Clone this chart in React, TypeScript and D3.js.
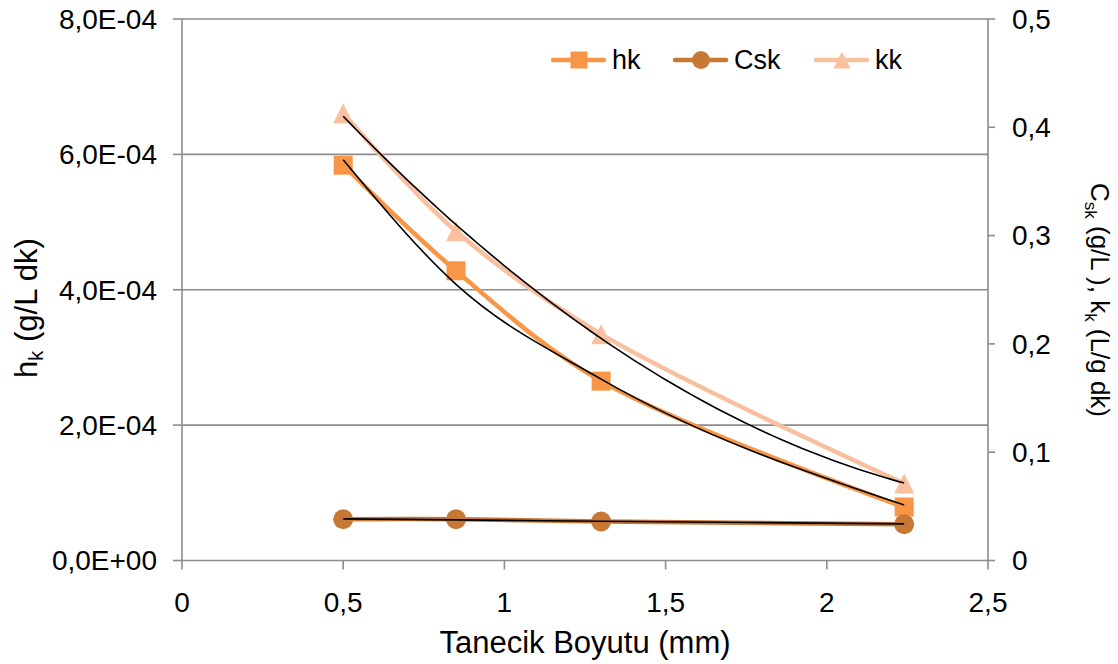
import React from 'react'
import * as d3 from 'd3'

// particle size (mm)
const sizes = [0.5, 0.85, 1.3, 2.24]
// left axis series
const hk = [5.84e-4, 4.28e-4, 2.65e-4, 0.79e-4]
// right axis series
const csk = [0.0381, 0.0381, 0.036, 0.0335]
const kk = [0.413, 0.304, 0.209, 0.071]
// black trend lines for hk and Csk, read at the same sizes
const hkTrend = [5.92e-4, 4.08e-4, 2.68e-4, 0.82e-4]
const cskTrend = [0.0384, 0.0375, 0.0363, 0.0338]

const xTicks = [0, 0.5, 1, 1.5, 2, 2.5]
const leftTicks = [0, 2e-4, 4e-4, 6e-4, 8e-4]
const leftTickLabels = ['0,0E+00', '2,0E-04', '4,0E-04', '6,0E-04', '8,0E-04']
const rightTicks = [0, 0.1, 0.2, 0.3, 0.4, 0.5]

const legendNames = ['hk', 'Csk', 'kk']
const colors = { hk: '#F79646', Csk: '#C87835', kk: '#F9C0A0' }

const W = 1118
const H = 664
const left = 182
const right = 988
const top = 19
const bottom = 560.5
const font = '"Liberation Sans", Arial, sans-serif'
const gridColor = '#8C8C8C'

const fmt = (v: number) => String(v).replace('.', ',')

// least squares 2nd order polynomial (Excel "polynomial" trendline)
function polyFit2(xs: number[], ys: number[]) {
  const s = (f: (x: number, y: number) => number) => d3.sum(xs, (xv, i) => f(xv, ys[i]))
  const n = xs.length
  const sx = s((a) => a), sx2 = s((a) => a * a), sx3 = s((a) => a ** 3), sx4 = s((a) => a ** 4)
  const sy = s((_, b) => b), sxy = s((a, b) => a * b), sx2y = s((a, b) => a * a * b)
  const M = [[n, sx, sx2, sy], [sx, sx2, sx3, sxy], [sx2, sx3, sx4, sx2y]]
  for (let i = 0; i < 3; i++) {
    for (let j = i + 1; j < 3; j++) {
      const f = M[j][i] / M[i][i]
      for (let k = i; k < 4; k++) M[j][k] -= f * M[i][k]
    }
  }
  const c = [0, 0, 0]
  for (let i = 2; i >= 0; i--) {
    let v = M[i][3]
    for (let k = i + 1; k < 3; k++) v -= M[i][k] * c[k]
    c[i] = v / M[i][i]
  }
  return (xv: number) => c[0] + c[1] * xv + c[2] * xv * xv
}

export default function App() {
  const x = d3.scaleLinear().domain([0, 2.5]).range([left, right])
  const yL = d3.scaleLinear().domain([0, 8e-4]).range([bottom, top])
  const yR = d3.scaleLinear().domain([0, 0.5]).range([bottom, top])

  const smooth = (vals: number[], y: d3.ScaleLinear<number, number>, curve: d3.CurveFactory) =>
    d3.line<number>()
      .x((_, i) => x(sizes[i]))
      .y((d) => y(d))
      .curve(curve)(vals) || ''

  const seriesCurve = d3.curveCatmullRom.alpha(0.5)
  const trendCurve = d3.curveMonotoneX

  const kkFit = polyFit2(sizes, kk)
  const kkTrendPath = d3.line<number>()
    .x((d) => x(d))
    .y((d) => yR(kkFit(d)))(d3.range(sizes[0], sizes[sizes.length - 1] + 0.001, 0.02)) || ''

  const square = (cx: number, cy: number, s: number, fill: string, key?: string) => (
    <rect key={key} x={cx - s / 2} y={cy - s / 2} width={s} height={s} fill={fill} />
  )
  const circle = (cx: number, cy: number, r: number, fill: string, key?: string) => (
    <circle key={key} cx={cx} cy={cy} r={r} fill={fill} />
  )
  const triangle = (cx: number, cy: number, s: number, fill: string, key?: string) => (
    <path key={key} d={`M${cx},${cy - s / 2}L${cx + s / 2},${cy + s / 2}L${cx - s / 2},${cy + s / 2}Z`} fill={fill} />
  )

  const legendX = [553, 675, 816]
  const legendY = 60
  const tickFont = 28

  return (
    <svg width={W} height={H} style={{ position: 'absolute', left: 0, top: 0, background: '#fff' }} fontFamily={font}>
      {/* gridlines */}
      {leftTicks.map((t, i) => (
        <g key={'g' + t}>
          <line x1={left} x2={right} y1={yL(t)} y2={yL(t)} stroke={gridColor} strokeWidth={1.6} />
          <line x1={left - 9} x2={left} y1={yL(t)} y2={yL(t)} stroke={gridColor} strokeWidth={1.6} />
          <text x={157} y={yL(t)} dy="0.35em" textAnchor="end" fontSize={tickFont}>
            {leftTickLabels[i]}
          </text>
        </g>
      ))}
      <line x1={left} x2={left} y1={top} y2={bottom} stroke={gridColor} strokeWidth={1.6} />
      <line x1={right} x2={right} y1={top} y2={bottom} stroke={gridColor} strokeWidth={1.6} />
      {rightTicks.map((t) => (
        <g key={'r' + t}>
          <line x1={right} x2={right + 7} y1={yR(t)} y2={yR(t)} stroke={gridColor} strokeWidth={1.6} />
          <text x={1012} y={yR(t)} dy="0.35em" fontSize={tickFont}>{fmt(t)}</text>
        </g>
      ))}
      {xTicks.map((t) => (
        <g key={'x' + t}>
          <line x1={x(t)} x2={x(t)} y1={bottom} y2={bottom + 9} stroke={gridColor} strokeWidth={1.6} />
          <text x={x(t)} y={612} textAnchor="middle" fontSize={tickFont}>{fmt(t)}</text>
        </g>
      ))}

      {/* axis titles */}
      <text x={585} y={653} textAnchor="middle" fontSize={31}>Tanecik Boyutu (mm)</text>
      <text transform="translate(37,308) rotate(-90)" textAnchor="middle" fontSize={31}>
        h<tspan fontSize={20} dy={6}>k</tspan><tspan dy={-6}> (g/L dk)</tspan>
      </text>
      <text transform="translate(1091,300) rotate(90)" textAnchor="middle" fontSize={26}>
        C<tspan fontSize={17} dy={6}>sk</tspan><tspan dy={-6}> (g/L ), k</tspan>
        <tspan fontSize={17} dy={6}>k</tspan><tspan dy={-6}> (L/g dk)</tspan>
      </text>

      {/* series */}
      <path d={smooth(hk, yL, seriesCurve)} fill="none" stroke={colors.hk} strokeWidth={4.5} />
      {hk.map((v, i) => square(x(sizes[i]), yL(v), 19, colors.hk, 'hk' + i))}
      <path d={smooth(csk, yR, seriesCurve)} fill="none" stroke={colors.Csk} strokeWidth={4.5} />
      {csk.map((v, i) => circle(x(sizes[i]), yR(v), 10, colors.Csk, 'c' + i))}
      <path d={smooth(kk, yR, seriesCurve)} fill="none" stroke={colors.kk} strokeWidth={4.5} />
      {kk.map((v, i) => triangle(x(sizes[i]), yR(v), 20, colors.kk, 'k' + i))}

      {/* trend lines */}
      <path d={smooth(hkTrend, yL, trendCurve)} fill="none" stroke="#000" strokeWidth={1.6} />
      <path d={smooth(cskTrend, yR, trendCurve)} fill="none" stroke="#000" strokeWidth={1.6} />
      <path d={kkTrendPath} fill="none" stroke="#000" strokeWidth={1.6} />

      {/* legend */}
      {legendNames.map((name, i) => {
        const lx = legendX[i]
        const c = colors[name as keyof typeof colors]
        return (
          <g key={'l' + name}>
            <line x1={lx} x2={lx + 51} y1={legendY} y2={legendY} stroke={c} strokeWidth={4.5} strokeLinecap="round" />
            {i === 0 && square(lx + 26, legendY, 17, c)}
            {i === 1 && circle(lx + 26, legendY, 9, c)}
            {i === 2 && triangle(lx + 26, legendY, 17, c)}
            <text x={lx + 59} y={legendY} dy="0.35em" fontSize={27}>{name}</text>
          </g>
        )
      })}
    </svg>
  )
}
